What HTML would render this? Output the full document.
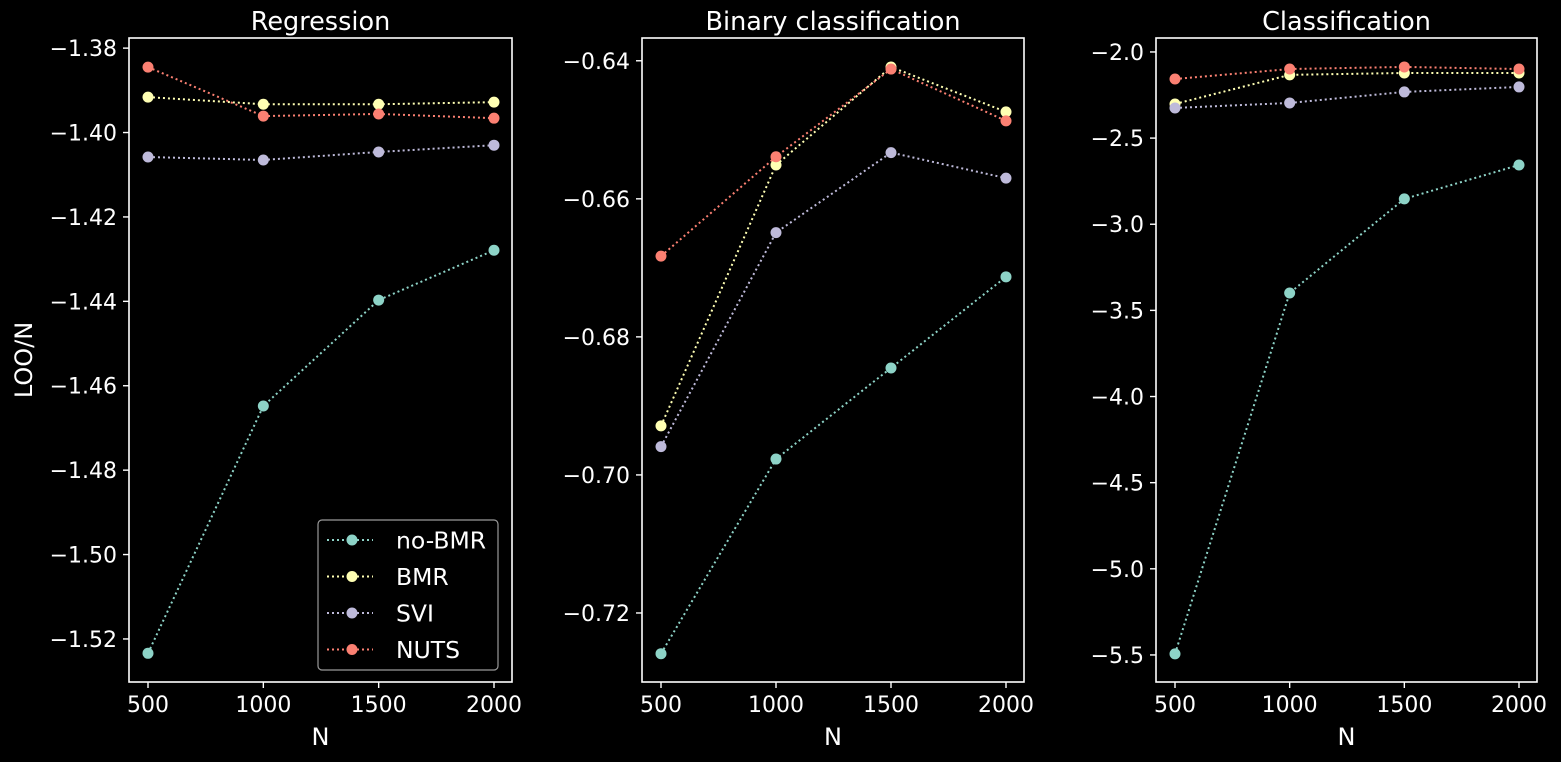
<!DOCTYPE html>
<html><head><meta charset="utf-8"><style>
html,body{margin:0;padding:0;background:#000;}
svg{display:block;font-family:"DejaVu Sans","Liberation Sans",sans-serif;}
</style></head><body>
<svg id="c" width="1561" height="762" viewBox="0 0 1561 762"></svg>
<script>
const nValues=[500,1000,1500,2000];
const xTicks=[500,1000,1500,2000];
const seriesNames=["no-BMR","BMR","SVI","NUTS"];
const seriesColors=["#8dd3c7","#ffffb3","#bebada","#fb8072"];
const panelTitles=["Regression","Binary classification","Classification"];
const regNoBMR=[-1.5234,-1.4648,-1.4397,-1.4279];
const regBMR=[-1.3916,-1.3933,-1.3933,-1.3928];
const regSVI=[-1.4058,-1.4065,-1.4046,-1.4030];
const regNUTS=[-1.3845,-1.3961,-1.3956,-1.3966];
const binNoBMR=[-0.7259,-0.6977,-0.6845,-0.6713];
const binBMR=[-0.6929,-0.6551,-0.6409,-0.6474];
const binSVI=[-0.6959,-0.6649,-0.6533,-0.6570];
const binNUTS=[-0.6683,-0.6539,-0.6412,-0.6487];
const clsNoBMR=[-5.494,-3.399,-2.853,-2.656];
const clsBMR=[-2.302,-2.133,-2.122,-2.122];
const clsSVI=[-2.325,-2.296,-2.232,-2.203];
const clsNUTS=[-2.157,-2.099,-2.087,-2.099];
const regTicks=[-1.38,-1.40,-1.42,-1.44,-1.46,-1.48,-1.50,-1.52];
const regTickLabels=["−1.38","−1.40","−1.42","−1.44","−1.46","−1.48","−1.50","−1.52"];
const binTicks=[-0.64,-0.66,-0.68,-0.70,-0.72];
const binTickLabels=["−0.64","−0.66","−0.68","−0.70","−0.72"];
const clsTicks=[-2.0,-2.5,-3.0,-3.5,-4.0,-4.5,-5.0,-5.5];
const clsTickLabels=["−2.0","−2.5","−3.0","−3.5","−4.0","−4.5","−5.0","−5.5"];

const NS="http://www.w3.org/2000/svg";
const svg=document.getElementById('c');
function mk(tag,attrs,parent){const e=document.createElementNS(NS,tag);for(const k in attrs)e.setAttribute(k,attrs[k]);(parent||svg).appendChild(e);return e;}

const panels=[
 {x0:129,x1:512,ymin:-1.5302,ymax:-1.3776,series:[regNoBMR,regBMR,regSVI,regNUTS],ticks:regTicks,labels:regTickLabels,key:"regression"},
 {x0:642,x1:1024,ymin:-0.7300,ymax:-0.6367,series:[binNoBMR,binBMR,binSVI,binNUTS],ticks:binTicks,labels:binTickLabels,key:"binary"},
 {x0:1156,x1:1537,ymin:-5.657,ymax:-1.919,series:[clsNoBMR,clsBMR,clsSVI,clsNUTS],ticks:clsTicks,labels:clsTickLabels,key:"classification"}
];
const Y0=38,Y1=682;
panels.forEach((p,pi)=>{
 const g=mk('g',{});
 
 
 const xs=v=>p.x0+19+(v-500)/1500*(p.x1-p.x0-37);
 const ys=v=>Y1-(v-p.ymin)/(p.ymax-p.ymin)*(Y1-Y0);
 const t=mk('text',{x:(p.x0+p.x1)/2,y:30,fill:'#fff','font-size':25.5,'text-anchor':'middle'},g);
 t.textContent=panelTitles[pi];
 
 
 p.ticks.forEach((tv,i)=>{
  const y=ys(tv);
  mk('line',{x1:p.x0-6,x2:p.x0,y1:y,y2:y,stroke:'#fff','stroke-width':1.4},g);
  const tl=mk('text',{x:p.x0-12,y:y+8,fill:'#fff','font-size':22,'text-anchor':'end'},g);
  tl.textContent=p.labels[i];
  
  
 });
 xTicks.forEach(tv=>{
  const x=xs(tv);
  mk('line',{x1:x,x2:x,y1:Y1,y2:Y1+6,stroke:'#fff','stroke-width':1.4},g);
  const tl=mk('text',{x:x,y:Y1+30,fill:'#fff','font-size':22,'text-anchor':'middle'},g);
  tl.textContent=tv;
  
  
 });
 const xl=mk('text',{x:(p.x0+p.x1)/2,y:745,fill:'#fff','font-size':24,'text-anchor':'middle'},g);
 xl.textContent='N';
 
 
 p.series.forEach((s,si)=>{
  const pts=s.map((v,i)=>xs(nValues[i])+','+ys(v)).join(' ');
  const pl=mk('polyline',{points:pts,fill:'none',stroke:seriesColors[si],'stroke-width':2,'stroke-dasharray':'2,3'},g);
  
  
  s.forEach((v,i)=>{
   const c=mk('circle',{cx:xs(nValues[i]),cy:ys(v),r:5.5,fill:seriesColors[si]},g);
   
   
  });
 });
 mk('rect',{x:p.x0,y:Y0,width:p.x1-p.x0,height:Y1-Y0,fill:'none',stroke:'#fff','stroke-width':1.6},g);
});
const yt=mk('text',{x:0,y:0,fill:'#fff','font-size':24,'text-anchor':'middle',transform:'translate(32,360) rotate(-90)'});
yt.textContent='LOO/N';


const lg=mk('g',{});


mk('rect',{x:318,y:520,width:180,height:150,rx:4,fill:'#000',stroke:'#999','stroke-width':1.2},lg);
seriesNames.forEach((n,i)=>{
 const y=540+i*36.5;
 const e=mk('g',{},lg);
 
 
 mk('line',{x1:327,x2:373,y1:y,y2:y,stroke:seriesColors[i],'stroke-width':2,'stroke-dasharray':'2,3'},e);
 mk('circle',{cx:352,cy:y,r:5.5,fill:seriesColors[i]},e);
 const t=mk('text',{x:396,y:y+8.5,fill:'#fff','font-size':23.5},e);
 t.textContent=n;
});
</script>
</body></html>
